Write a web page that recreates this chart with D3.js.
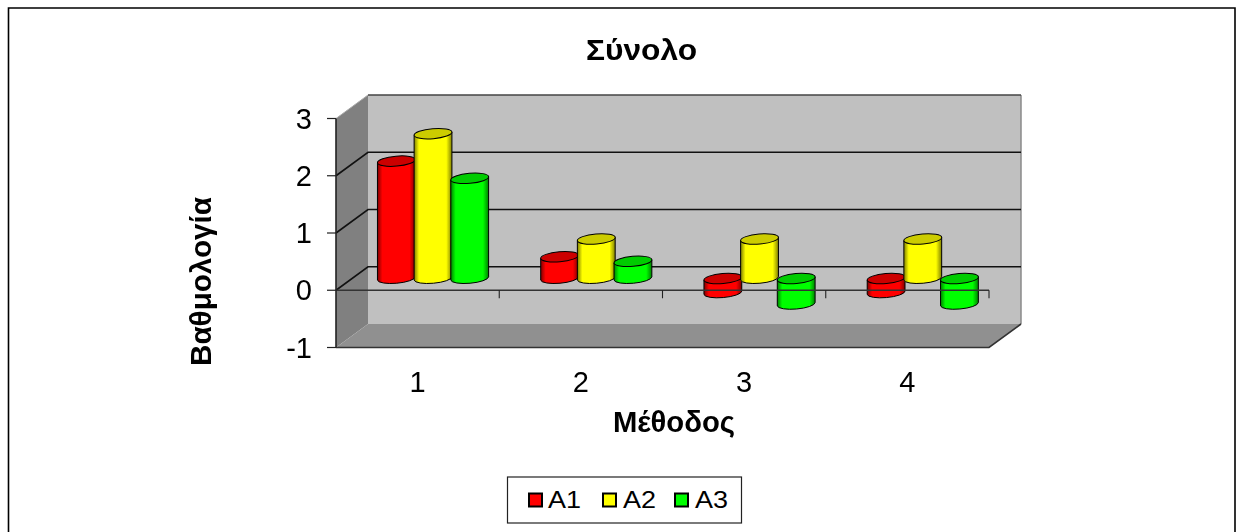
<!DOCTYPE html>
<html><head><meta charset="utf-8">
<script src="https://cdn.jsdelivr.net/npm/d3@7"></script>
<style>html,body{margin:0;padding:0;background:#fff}svg{display:block;filter:blur(0.4px)}text{font-family:"Liberation Sans",Arial,sans-serif;fill:#000}</style>
</head><body><svg id="c" width="1240" height="532"></svg>
<script>
const categories=["1","2","3","4"];
const seriesNames=["A1","A2","A3"];
const seriesColors=["#ff0000","#ffff00","#00ff00"];
const topColors=["#cc0000","#cccc00","#00cc00"];
const edgeColors=["#800000","#808000","#008000"];
const A1=[2.05,0.38,-0.25,-0.25];
const A2=[2.53,0.69,0.69,0.69];
const A3=[1.75,0.30,-0.45,-0.45];
const seriesValues=[A1,A2,A3];
const yTicks=[-1,0,1,2,3];
const titleText="Σύνολο", xTitle="Μέθοδος", yTitle="Βαθμολογία";

const svg=d3.select("#c");
const dx=32, dy=-23.5;
const x=d3.scaleBand().domain(categories).range([336,989]);
const y=d3.scaleLinear().domain([-1,3]).range([347.5,118.5]);
const inner=d3.scaleBand().domain(seriesNames).range([-55,55]);
const ln=d3.line();
const poly=(pts,fill)=>svg.append("path").attr("d",ln(pts)+"Z").attr("fill",fill);

const defs=svg.append("defs");
seriesColors.forEach((c,i)=>{
  const g=defs.append("linearGradient").attr("id","g"+i);
  [[0,edgeColors[i]],[0.13,c],[0.85,c],[1,edgeColors[i]]].forEach(s=>g.append("stop").attr("offset",s[0]).attr("stop-color",s[1]));
});

svg.append("path").attr("d","M8.5 540V8V8H1235V540").attr("fill","none").attr("stroke","#000").attr("stroke-width",1.6);

const L=336,R=989,T=y(3),B=y(-1);
poly([[L,T],[L+dx,T+dy],[L+dx,B+dy],[L,B]],"#808080");
poly([[L+dx,T+dy],[R+dx,T+dy],[R+dx,B+dy],[L+dx,B+dy]],"#c0c0c0");
poly([[L,B],[L+dx,B+dy],[R+dx,B+dy],[R,B]],"#909090");
svg.append("path").attr("d",ln([[R+dx,B+dy],[R+dx,T+dy]])).attr("stroke","#8a8a8a").attr("stroke-width",1.5).attr("fill","none");
svg.append("path").attr("d",ln([[L+dx,T+dy],[R+dx,T+dy]])).attr("stroke","#444").attr("stroke-width",1.6).attr("fill","none");
yTicks.filter(t=>t>-1&&t<3).forEach(t=>{
  svg.append("path").attr("d",ln([[L,y(t)],[L+dx,y(t)+dy],[R+dx,y(t)+dy]])).attr("fill","none").attr("stroke","#111").attr("stroke-width",1.6);
});
svg.append("path").attr("d",ln([[L,T],[L+dx,T+dy]])).attr("stroke","#aaa").attr("fill","none");

const rx=19, ry=5, rot=-5;
const offX=dx/2-0.6, offY=dy/2;
function ell(cx,cy,fill){
  svg.append("ellipse").attr("cx",cx).attr("cy",cy).attr("rx",rx).attr("ry",ry)
   .attr("transform",`rotate(${rot} ${cx} ${cy})`).attr("fill",fill).attr("stroke","#000").attr("stroke-width",1);
}
categories.forEach((c,ci)=>{
  seriesNames.forEach((s,si)=>{
    const v=seriesValues[si][ci];
    const cx=x(c)+x.bandwidth()/2+offX+inner(s)+inner.bandwidth()/2;
    const yTop=y(Math.max(v,0))+offY, yBot=y(Math.min(v,0))+offY;
    const xl=cx-rx*0.995, xr=cx+rx*0.995, sh=rx*0.087;
    const d=`M${xl} ${yTop+sh}L${xl} ${yBot+sh}A${rx} ${ry} ${rot} 0 0 ${xr} ${yBot-sh}L${xr} ${yTop-sh}Z`;
    svg.append("path").attr("d",d).attr("fill",`url(#g${si})`).attr("stroke","#000").attr("stroke-width",1);
    ell(cx,yTop,topColors[si]);
  });
});

svg.append("path").attr("d",ln([[L,y(0)],[R,y(0)]])).attr("stroke","#333").attr("stroke-width",1.6).attr("fill","none");
svg.append("path").attr("d",ln([[L,B],[R,B],[R+dx,B+dy]])).attr("stroke","#333").attr("stroke-width",1.6).attr("fill","none");
svg.append("path").attr("d",ln([[L,T],[L,B]])).attr("stroke","#222").attr("stroke-width",1.6).attr("fill","none");
categories.forEach(c=>{const px=x(c)+x.bandwidth();
  svg.append("path").attr("d",ln([[px,y(0)],[px,y(0)+8]])).attr("stroke","#222").attr("stroke-width",1.1).attr("fill","none");
});
yTicks.forEach(t=>{
  svg.append("path").attr("d",ln([[L-9,y(t)],[L,y(t)]])).attr("stroke","#222").attr("stroke-width",1.2).attr("fill","none");
  svg.append("text").attr("x",312).attr("y",y(t)+10).attr("text-anchor","end").attr("font-size",29).text(t);
});
categories.forEach(c=>{
  svg.append("text").attr("x",x(c)+x.bandwidth()/2).attr("y",392).attr("text-anchor","middle").attr("font-size",29).text(c);
});

svg.append("text").attr("x",586).attr("y",60).attr("font-size",30).attr("font-weight","bold").attr("textLength",111).attr("lengthAdjust","spacingAndGlyphs").text(titleText);
svg.append("text").attr("x",613).attr("y",432).attr("font-size",29).attr("font-weight","bold").attr("textLength",122).attr("lengthAdjust","spacingAndGlyphs").text(xTitle);
svg.append("text").attr("transform","translate(211,366) rotate(-90)").attr("font-size",29).attr("font-weight","bold").attr("textLength",169).attr("lengthAdjust","spacingAndGlyphs").text(yTitle);

svg.append("rect").attr("x",507.5).attr("y",477).attr("width",234).attr("height",46).attr("fill","#fff").attr("stroke","#222").attr("stroke-width",1.2);
const legendX=[529,603,675];
const legendTextX=[548,623,695];
seriesNames.forEach((s,i)=>{
  svg.append("rect").attr("x",legendX[i]).attr("y",493.5).attr("width",13).attr("height",13).attr("fill",seriesColors[i]).attr("stroke","#000").attr("stroke-width",2);
  svg.append("text").attr("x",legendTextX[i]).attr("y",508).attr("font-size",24).attr("textLength",33).attr("lengthAdjust","spacingAndGlyphs").text(s);
});
</script></body></html>
